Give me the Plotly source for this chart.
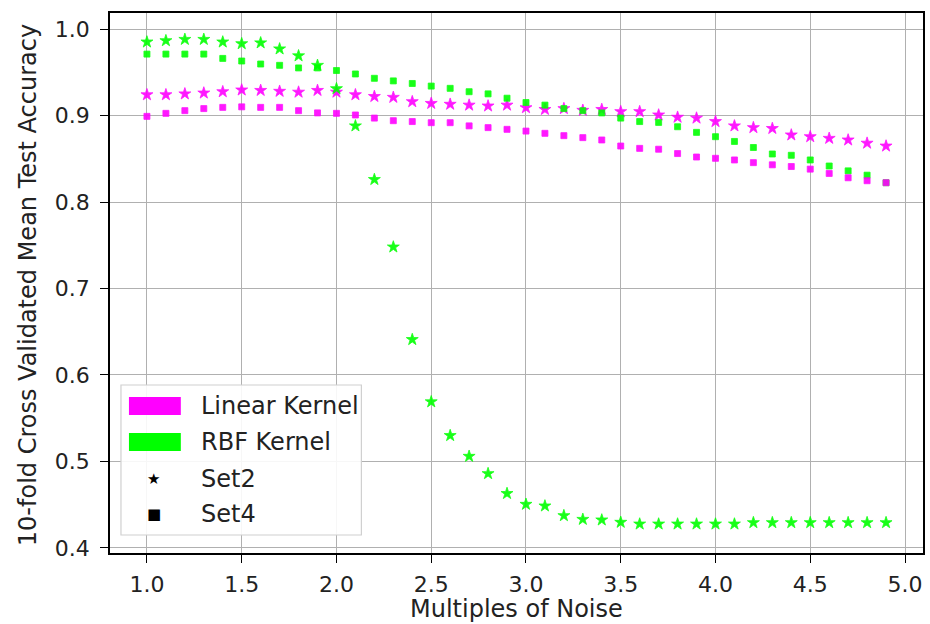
import plotly.graph_objects as go

# ---- data ----
noise = [round(1.0 + 0.1 * i, 1) for i in range(40)]

linear_set2 = [0.924, 0.924, 0.925, 0.926, 0.9275, 0.9295, 0.929, 0.928, 0.927, 0.929,
               0.927, 0.924, 0.922, 0.921, 0.916, 0.914, 0.913, 0.912, 0.911, 0.912,
               0.909, 0.907, 0.908, 0.906, 0.907, 0.9045, 0.9045, 0.9006, 0.898, 0.897,
               0.893, 0.888, 0.886, 0.885, 0.8775, 0.8755, 0.8736, 0.8717, 0.868, 0.8647]

linear_set4 = [0.899, 0.9025, 0.9056, 0.908, 0.9094, 0.910, 0.9094, 0.9094, 0.9056, 0.903,
               0.9025, 0.9006, 0.897, 0.894, 0.893, 0.8917, 0.8917, 0.888, 0.886, 0.884,
               0.882, 0.8794, 0.8767, 0.8744, 0.8717, 0.8647, 0.862, 0.861, 0.856, 0.852,
               0.8505, 0.8486, 0.8455, 0.843, 0.841, 0.838, 0.833, 0.828, 0.8246, 0.8223]

rbf_set2 = [0.985, 0.9865, 0.988, 0.988, 0.985, 0.983, 0.984, 0.977, 0.969, 0.958,
            0.931, 0.888, 0.826, 0.748, 0.641, 0.569, 0.530, 0.506, 0.486, 0.463,
            0.4505, 0.4486, 0.4374, 0.4331, 0.4324, 0.4297, 0.4277, 0.4277, 0.4277, 0.4277,
            0.4277, 0.4277, 0.4293, 0.4293, 0.4293, 0.4293, 0.4293, 0.4293, 0.4293, 0.4293]

rbf_set4 = [0.971, 0.971, 0.971, 0.971, 0.966, 0.963, 0.9595, 0.958, 0.955, 0.955,
            0.952, 0.948, 0.943, 0.940, 0.937, 0.934, 0.9314, 0.9275, 0.925, 0.920,
            0.915, 0.912, 0.908, 0.9056, 0.903, 0.897, 0.893, 0.892, 0.887, 0.8805,
            0.8755, 0.870, 0.863, 0.8555, 0.854, 0.8486, 0.8416, 0.836, 0.831, 0.8223]

x_ticks = [1.0, 1.5, 2.0, 2.5, 3.0, 3.5, 4.0, 4.5, 5.0]
y_ticks = [0.4, 0.5, 0.6, 0.7, 0.8, 0.9, 1.0]

MAGENTA = "#FF00FF"
LIME = "#00FF00"
TXT = "#222222"
FONT = "DejaVu Sans"

W, H = 930, 624
L, R, T, B = 110, 5, 13, 71
PW, PH = W - L - R, H - T - B


def px(x):
    return (x - L) / PW


def py(y):
    return 1 - (y - T) / PH


fig = go.Figure()

series = [
    ("Linear Set2", linear_set2, MAGENTA, "star", 9),
    ("RBF Set2", rbf_set2, LIME, "star", 9),
    ("RBF Set4", rbf_set4, LIME, "square", 6),
    ("Linear Set4", linear_set4, MAGENTA, "square", 6),
]
for name, vals, col, sym, size in series:
    fig.add_trace(go.Scatter(
        x=noise, y=vals, mode="markers", name=name, showlegend=False,
        marker=dict(symbol=sym, size=size, color=col, opacity=0.9,
                    line=dict(width=0.8, color=col)),
    ))

axis_common = dict(
    showgrid=True, gridcolor="#b0b0b0", gridwidth=1.2,
    showline=True, linecolor="black", linewidth=1.5, mirror=True,
    ticks="outside", ticklen=8, tickwidth=1.3, tickcolor="black",
    tickfont=dict(family=FONT, size=22, color=TXT),
    zeroline=False,
)

fig.update_xaxes(range=[0.805, 5.095], tickvals=x_ticks,
                 ticktext=[f"{v:.1f}" for v in x_ticks], ticklabelstandoff=3,
                 **axis_common)
fig.update_yaxes(range=[0.3942, 1.0185], tickvals=y_ticks,
                 ticktext=[f"{v:.1f}" for v in y_ticks], ticklabelstandoff=6,
                 **axis_common)

annotations = [
    dict(text="Multiples of Noise", x=px(518), y=py(609), xref="paper", yref="paper",
         showarrow=False, font=dict(family=FONT, size=24, color=TXT),
         xanchor="center", yanchor="middle"),
    dict(text="10-fold Cross Validated Mean Test Accuracy", x=px(28), y=py(285),
         xref="paper", yref="paper", showarrow=False, textangle=-90,
         font=dict(family=FONT, size=24, color=TXT),
         xanchor="center", yanchor="middle"),
]

# ---- custom legend ----
shapes = [
    dict(type="rect", xref="paper", yref="paper", x0=px(121), x1=px(362),
         y0=py(535), y1=py(385), line=dict(color="#d0d0d0", width=1.2),
         fillcolor="rgba(255,255,255,0.9)", layer="above"),
    dict(type="rect", xref="paper", yref="paper", x0=px(129), x1=px(181),
         y0=py(415), y1=py(397), line=dict(width=0), fillcolor=MAGENTA, layer="above"),
    dict(type="rect", xref="paper", yref="paper", x0=px(129), x1=px(181),
         y0=py(451), y1=py(433), line=dict(width=0), fillcolor=LIME, layer="above"),
]

legend_rows = [("Linear Kernel", 406), ("RBF Kernel", 442), ("Set2", 479), ("Set4", 514)]
for label, yy in legend_rows:
    annotations.append(dict(text=label, x=px(199), y=py(yy), xref="paper", yref="paper",
                            showarrow=False, xanchor="left", yanchor="middle",
                            font=dict(family=FONT, size=24, color=TXT)))
annotations.append(dict(text="★", x=px(154), y=py(479), xref="paper", yref="paper",
                        showarrow=False, xanchor="center", yanchor="middle",
                        font=dict(family=FONT, size=15, color="black")))
annotations.append(dict(text="■", x=px(154), y=py(514), xref="paper", yref="paper",
                        showarrow=False, xanchor="center", yanchor="middle",
                        font=dict(family=FONT, size=15, color="black")))

fig.update_layout(
    width=W, height=H,
    margin=dict(l=L, r=R, t=T, b=B),
    paper_bgcolor="white", plot_bgcolor="white",
    font=dict(family=FONT, color=TXT),
    shapes=shapes, annotations=annotations,
    showlegend=False,
)

fig.write_html("out.html")
